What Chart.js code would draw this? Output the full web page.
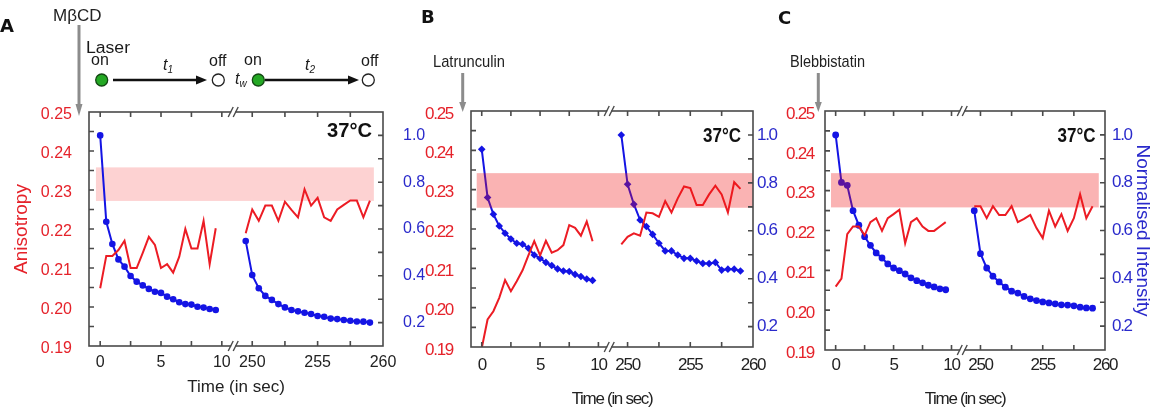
<!DOCTYPE html>
<html>
<head>
<meta charset="utf-8">
<script src="https://cdn.jsdelivr.net/npm/chart.js"></script>
<style>
  html, body { margin: 0; background: #fff; }
  #fig { position: relative; width: 1158px; height: 414px; overflow: hidden; }
  #fig canvas { position: absolute; }
  #notes { position: absolute; left: 0; top: 0; pointer-events: none; }
</style>
</head>
<body>
<div id="fig">
  <canvas id="chartA" width="432" height="314" style="left:0;top:100px"></canvas>
  <canvas id="chartB" width="362" height="314" style="left:420px;top:100px"></canvas>
  <canvas id="chartC" width="383" height="314" style="left:775px;top:100px"></canvas>

  <svg id="notes" width="1158" height="414" viewBox="0 0 1158 414">
    <g font-family="DejaVu Sans, sans-serif" font-weight="bold" font-size="18" fill="#111">
      <text x="0" y="32">A</text>
      <text x="421" y="23">B</text>
      <text x="778" y="24">C</text>
    </g>

    <!-- drug addition markers -->
    <g fill="#222" font-family="Liberation Sans, Arial, sans-serif">
      <text x="53" y="21" font-size="17">MβCD</text>
      <text x="433" y="67" font-size="17" textLength="72" lengthAdjust="spacingAndGlyphs">Latrunculin</text>
      <text x="790" y="67" font-size="17" textLength="75" lengthAdjust="spacingAndGlyphs">Blebbistatin</text>
    </g>
    <g stroke="#8c8c8c" stroke-width="3">
      <line x1="79" y1="25" x2="79" y2="106"/>
      <line x1="462.7" y1="73" x2="462.7" y2="104"/>
      <line x1="818.3" y1="73" x2="818.3" y2="104"/>
    </g>
    <g fill="#8c8c8c">
      <polygon points="75.5,104 82.5,104 79,116"/>
      <polygon points="459.2,102 466.2,102 462.7,112"/>
      <polygon points="814.8,102 821.8,102 818.3,112"/>
    </g>

    <!-- laser on/off protocol -->
    <g font-family="Liberation Sans, Arial, sans-serif" font-size="16" fill="#1a1a1a">
      <text x="86" y="52.5" textLength="44" lengthAdjust="spacingAndGlyphs">Laser</text>
      <text x="91" y="65">on</text>
      <text x="209" y="65.5">off</text>
      <text x="244" y="65">on</text>
      <text x="361" y="65.5">off</text>
      <text x="163" y="70" font-style="italic">t<tspan font-size="10" dy="3">1</tspan></text>
      <text x="235" y="84" font-style="italic">t<tspan font-size="10" dy="3">w</tspan></text>
      <text x="305" y="70" font-style="italic">t<tspan font-size="10" dy="3">2</tspan></text>
    </g>
    <g stroke="#111" stroke-width="2.5">
      <line x1="113" y1="80" x2="198" y2="80"/>
      <line x1="265" y1="80" x2="350" y2="80"/>
    </g>
    <g fill="#111">
      <polygon points="196,75.5 207,80 196,84.5"/>
      <polygon points="348,75.5 359,80 348,84.5"/>
    </g>
    <g stroke-width="1.3">
      <circle cx="101.7" cy="80" r="6" fill="#24a824" stroke="#124812"/>
      <circle cx="258.3" cy="80" r="6" fill="#24a824" stroke="#124812"/>
      <circle cx="218.3" cy="80" r="6" fill="#fff" stroke="#222"/>
      <circle cx="368.3" cy="80" r="6" fill="#fff" stroke="#222"/>
    </g>

    <g font-weight="bold" fill="#111" font-size="20" font-family="Liberation Sans, Arial, sans-serif">
      <text x="327" y="137" textLength="45" lengthAdjust="spacingAndGlyphs">37°C</text>
      <text x="703" y="141.5" textLength="38" lengthAdjust="spacingAndGlyphs">37°C</text>
      <text x="1057.5" y="141.5" textLength="38" lengthAdjust="spacingAndGlyphs">37°C</text>
    </g>
  </svg>
</div>

<script>
"use strict";

// sampling times (s): first bleach run and the run after the wait
const TIME_EARLY = [0, 0.5, 1, 1.5, 2, 2.5, 3, 3.5, 4, 4.5, 5, 5.5, 6, 6.5, 7, 7.5, 8, 8.5, 9, 9.5];
const TIME_LATE = [249.5, 250, 250.5, 251, 251.5, 252, 252.5, 253, 253.5, 254,
                   254.5, 255, 255.5, 256, 256.5, 257, 257.5, 258, 258.5, 259];

const TIME_TICKS = [0, 5, 10, 250, 255, 260];
const TIME_MINOR = [0, 2.5, 5, 7.5, 10, 250, 252.5, 255, 257.5];
const ANISO_TICKS = [0.19, 0.20, 0.21, 0.22, 0.23, 0.24, 0.25];
const ANISO_MINOR = [0.195, 0.20, 0.205, 0.21, 0.215, 0.22, 0.225, 0.23, 0.235, 0.24, 0.245];
const INT_TICKS = [0.2, 0.4, 0.6, 0.8, 1.0];
const INT_MINOR = [0.2, 0.3, 0.4, 0.5, 0.6, 0.7, 0.8, 0.9, 1.0];

// A: MβCD
const A_ANISO_EARLY = [0.2048, 0.2131, 0.2131, 0.2146, 0.2170, 0.2100, 0.2100, 0.2139, 0.2180, 0.2159,
                       0.2100, 0.2110, 0.2088, 0.2129, 0.2200, 0.2150, 0.2150, 0.2221, 0.2110, 0.2202];
const A_ANISO_LATE = [0.2189, 0.2250, 0.2221, 0.2260, 0.2260, 0.2221, 0.2270, 0.2249, 0.2230, 0.2302,
                      0.2260, 0.2280, 0.2230, 0.2221, 0.2250, 0.2262, 0.2273, 0.2273, 0.2230, 0.2273];
const A_INT_EARLY = [1.000, 0.631, 0.536, 0.470, 0.439, 0.399, 0.375, 0.359, 0.344, 0.332,
                     0.327, 0.311, 0.300, 0.287, 0.279, 0.277, 0.268, 0.264, 0.258, 0.254];
const A_INT_LATE = [0.549, 0.403, 0.347, 0.314, 0.297, 0.279, 0.265, 0.254, 0.248, 0.242,
                    0.237, 0.228, 0.225, 0.217, 0.215, 0.211, 0.208, 0.205, 0.204, 0.200];
const A_BAND = [0.2272, 0.2358];
const A_BAND_SPAN = [-0.35, 259.3];

// B: Latrunculin
const B_ANISO_EARLY = [0.1897, 0.1970, 0.1991, 0.2025, 0.2070, 0.2042, 0.2067, 0.2095, 0.2133, 0.2169,
                       0.2133, 0.2170, 0.2140, 0.2146, 0.2159, 0.2210, 0.2203, 0.2183, 0.2219, 0.2169];
const B_ANISO_LATE = [0.2161, 0.2180, 0.2189, 0.2183, 0.2242, 0.2240, 0.2231, 0.2271, 0.2242, 0.2278,
                      0.2308, 0.2304, 0.2261, 0.2261, 0.2288, 0.2310, 0.2288, 0.2242, 0.2319, 0.2302];
const B_INT_EARLY = [0.940, 0.739, 0.669, 0.620, 0.590, 0.566, 0.548, 0.544, 0.527, 0.499,
                     0.485, 0.468, 0.455, 0.441, 0.432, 0.430, 0.418, 0.409, 0.399, 0.393];
const B_INT_LATE = [1.000, 0.794, 0.711, 0.645, 0.618, 0.585, 0.548, 0.516, 0.516, 0.499,
                    0.485, 0.485, 0.474, 0.464, 0.463, 0.468, 0.436, 0.440, 0.440, 0.432];
const B_BAND = [0.2254, 0.2342];
const B_BAND_SPAN = [-0.43, 260];

// C: Blebbistatin
const C_ANISO_EARLY = [0.2059, 0.2079, 0.2191, 0.2210, 0.2210, 0.2188, 0.2221, 0.2231, 0.2199, 0.2231,
                       0.2241, 0.2252, 0.2168, 0.2221, 0.2231, 0.2210, 0.2199, 0.2199, 0.2210, 0.2221];
const C_ANISO_LATE = [0.2261, 0.2261, 0.2231, 0.2261, 0.2239, 0.2239, 0.2261, 0.2221, 0.2229, 0.2239,
                      0.2206, 0.2181, 0.2250, 0.2210, 0.2241, 0.2199, 0.2231, 0.2291, 0.2231, 0.2261];
const C_INT_EARLY = [1.000, 0.801, 0.789, 0.683, 0.622, 0.574, 0.538, 0.506, 0.485, 0.460,
                     0.443, 0.432, 0.418, 0.402, 0.390, 0.381, 0.371, 0.364, 0.356, 0.352];
const C_INT_LATE = [0.683, 0.503, 0.443, 0.409, 0.385, 0.363, 0.346, 0.338, 0.324, 0.314,
                    0.307, 0.301, 0.297, 0.293, 0.289, 0.288, 0.285, 0.279, 0.276, 0.275];
const C_BAND = [0.2258, 0.2344];
const C_BAND_SPAN = [-0.4, 259.5];

// broken time axis: the late run is drawn right after the early one, a bit stretched
const LATE_START = 12.5;
const LATE_STRETCH = 1.075;
const BREAK_AT = 11.1;
const X_MIN = -0.92;
const X_MAX = 23.25;

const RED = "#ec1c24";
const RED_TEXT = "#e5222a";
const BLUE = "#1414e4";
const BLUE_TEXT = "#2a2acb";
const FRAME = "#4a4a4a";
const SANS = "'Liberation Sans', Arial, sans-serif";

function el(id) { return document.getElementById(id); }

function axisX(t) {
  return t < 100 ? t : LATE_START + (t - 250) * LATE_STRETCH;
}

function points(times, values) {
  return times.map((t, i) => ({ x: axisX(t), y: values[i] }));
}

function drawBand(chart, o) {
  const { ctx, scales: { x, y } } = chart;
  const x0 = x.getPixelForValue(axisX(o.span[0]));
  const x1 = x.getPixelForValue(axisX(o.span[1]));
  const y0 = y.getPixelForValue(o.range[1]);
  const y1 = y.getPixelForValue(o.range[0]);
  ctx.save();
  ctx.fillStyle = o.color;
  ctx.fillRect(x0, y0, x1 - x0, y1 - y0);
  ctx.restore();
}

const bandPlugin = {
  id: "band",
  beforeDatasetsDraw(chart, args, o) { if (!o.onTop) drawBand(chart, o); },
  afterDatasetsDraw(chart, args, o) { if (o.onTop) drawBand(chart, o); },
};

// tighter lettering for the narrow B/C panels
const spacingPlugin = {
  id: "spacing",
  beforeLayout(chart, args, o) { chart.ctx.letterSpacing = o.value || "0px"; },
  beforeDraw(chart, args, o) { chart.ctx.letterSpacing = o.value || "0px"; },
};

// the side title keeps normal letter spacing
function plainTitle(s) {
  if (s._plainTitle) return;
  s._plainTitle = true;
  s.drawTitle = function () {
    const prev = this.ctx.letterSpacing;
    this.ctx.letterSpacing = "0px";
    Chart.Scale.prototype.drawTitle.call(this);
    this.ctx.letterSpacing = prev;
  };
}

// box frame with inward ticks and the // axis break
const framePlugin = {
  id: "frame",
  afterDraw(chart) {
    const { ctx, chartArea: a, scales: { x, y, y1 } } = chart;
    const tick = 5;
    ctx.save();
    ctx.strokeStyle = FRAME;
    ctx.lineWidth = 1.6;
    ctx.strokeRect(a.left, a.top, a.right - a.left, a.bottom - a.top);

    ctx.beginPath();
    TIME_MINOR.forEach((t) => {
      const px = x.getPixelForValue(axisX(t));
      ctx.moveTo(px, a.bottom); ctx.lineTo(px, a.bottom - tick);
      ctx.moveTo(px, a.top); ctx.lineTo(px, a.top + tick);
    });
    ANISO_MINOR.forEach((v) => {
      const py = y.getPixelForValue(v);
      ctx.moveTo(a.left, py); ctx.lineTo(a.left + tick, py);
    });
    INT_MINOR.forEach((v) => {
      const py = y1.getPixelForValue(v);
      ctx.moveTo(a.right, py); ctx.lineTo(a.right - tick, py);
    });
    ctx.stroke();

    const bx = x.getPixelForValue(BREAK_AT);
    [a.top, a.bottom].forEach((by) => {
      ctx.fillStyle = "#fff";
      ctx.fillRect(bx - 4, by - 2, 4, 4);
      ctx.beginPath();
      ctx.moveTo(bx - 7, by + 5); ctx.lineTo(bx - 2, by - 5);
      ctx.moveTo(bx - 2, by + 5); ctx.lineTo(bx + 3, by - 5);
      ctx.lineWidth = 1.4;
      ctx.stroke();
    });
    ctx.restore();
  },
};

function lineDs(data, axis, color, p) {
  return {
    data, yAxisID: axis, borderColor: color, backgroundColor: color,
    borderWidth: 2, tension: 0,
    pointRadius: axis === "y1" ? p.markerR : 0,
    pointStyle: p.marker, pointBorderWidth: 0,
  };
}

// fixed axis boxes so every panel's plot frame lands where it should
function fixWidth(w) {
  return (s) => { s.width = w; s.paddingTop = 0; s.paddingBottom = 0; };
}

function panelChart(id, p) {
  const tickFont = { family: SANS, size: p.tickSize };
  return new Chart(el(id), {
    type: "line",
    data: {
      datasets: [
        lineDs(points(TIME_EARLY, p.anisoEarly), "y", RED, p),
        lineDs(points(TIME_LATE, p.anisoLate), "y", RED, p),
        lineDs(points(TIME_EARLY, p.intEarly), "y1", BLUE, p),
        lineDs(points(TIME_LATE, p.intLate), "y1", BLUE, p),
      ],
    },
    options: {
      responsive: false, animation: false, devicePixelRatio: 1,
      layout: { padding: { top: p.padTop, left: 0, right: 0, bottom: 0 } },
      plugins: {
        legend: { display: false }, tooltip: { enabled: false },
        band: { range: p.band, span: p.bandSpan, color: p.bandColor, onTop: p.bandOnTop },
        spacing: { value: p.spacing },
      },
      scales: {
        x: {
          type: "linear", min: X_MIN, max: X_MAX,
          afterBuildTicks: (s) => { s.ticks = TIME_TICKS.map((t) => ({ value: axisX(t) })); },
          afterFit: (s) => { s.height = p.xH; s.paddingLeft = 0; s.paddingRight = 0; },
          ticks: { callback: (v, i) => String(TIME_TICKS[i]), color: "#222", font: tickFont,
                   padding: p.xPad, maxRotation: 0, autoSkip: false },
          grid: { display: false, drawTicks: false }, border: { display: false },
          title: { display: true, text: "Time (in sec)", color: "#222",
                   font: { family: SANS, size: 17 }, padding: { top: 0, bottom: p.xTitlePad } },
        },
        y: {
          position: "left", min: 0.19, max: 0.25,
          afterBuildTicks: (s) => { s.ticks = ANISO_TICKS.map((v) => ({ value: v })); },
          afterFit: fixWidth(p.leftW),
          ticks: { callback: (v) => v.toFixed(2), color: RED_TEXT, font: tickFont,
                   padding: p.leftPad, labelOffset: 3 },
          grid: { display: false, drawTicks: false }, border: { display: false },
          title: { display: p.leftTitle, text: "Anisotropy", color: RED_TEXT,
                   font: { family: SANS, size: 19 }, padding: { top: 10, bottom: 0 } },
        },
        y1: {
          position: "right", min: p.intMin, max: 1.1,
          afterBuildTicks: (s) => { s.ticks = INT_TICKS.map((v) => ({ value: v })); },
          afterFit: (s) => { fixWidth(p.rightW)(s); plainTitle(s); },
          ticks: { callback: (v) => v.toFixed(1), color: BLUE_TEXT, font: tickFont, padding: p.rightPad },
          grid: { display: false, drawTicks: false }, border: { display: false },
          title: { display: p.rightTitle, text: "Normalised Intensity", color: BLUE_TEXT,
                   font: { family: SANS, size: 19 }, padding: { top: 4, bottom: 0 } },
        },
      },
    },
    plugins: [spacingPlugin, bandPlugin, framePlugin],
  });
}

panelChart("chartA", {
  anisoEarly: A_ANISO_EARLY, anisoLate: A_ANISO_LATE, intEarly: A_INT_EARLY, intLate: A_INT_LATE,
  band: A_BAND, bandSpan: A_BAND_SPAN, bandColor: "#fdd2d2", bandOnTop: false,
  marker: "circle", markerR: 3.3, tickSize: 16, spacing: "0px",
  padTop: 12, leftW: 89, rightW: 49, xH: 68, leftPad: 17, rightPad: 20, xPad: 7, xTitlePad: 16,
  intMin: 0.1, leftTitle: true, rightTitle: false,
});

panelChart("chartB", {
  anisoEarly: B_ANISO_EARLY, anisoLate: B_ANISO_LATE, intEarly: B_INT_EARLY, intLate: B_INT_LATE,
  band: B_BAND, bandSpan: B_BAND_SPAN, bandColor: "rgba(240, 20, 20, 0.32)", bandOnTop: true,
  marker: "rectRot", markerR: 3.8, tickSize: 17, spacing: "-1.3px",
  padTop: 11, leftW: 51, rightW: 29, xH: 67, leftPad: 18, rightPad: 4, xPad: 8, xTitlePad: 4,
  intMin: 0.115, leftTitle: false, rightTitle: false,
});

panelChart("chartC", {
  anisoEarly: C_ANISO_EARLY, anisoLate: C_ANISO_LATE, intEarly: C_INT_EARLY, intLate: C_INT_LATE,
  band: C_BAND, bandSpan: C_BAND_SPAN, bandColor: "rgba(240, 20, 20, 0.32)", bandOnTop: true,
  marker: "circle", markerR: 3.4, tickSize: 17, spacing: "-1.3px",
  padTop: 11, leftW: 50, rightW: 53, xH: 64, leftPad: 11, rightPad: 7, xPad: 5, xTitlePad: 4,
  intMin: 0.1, leftTitle: false, rightTitle: true,
});
</script>
</body>
</html>
